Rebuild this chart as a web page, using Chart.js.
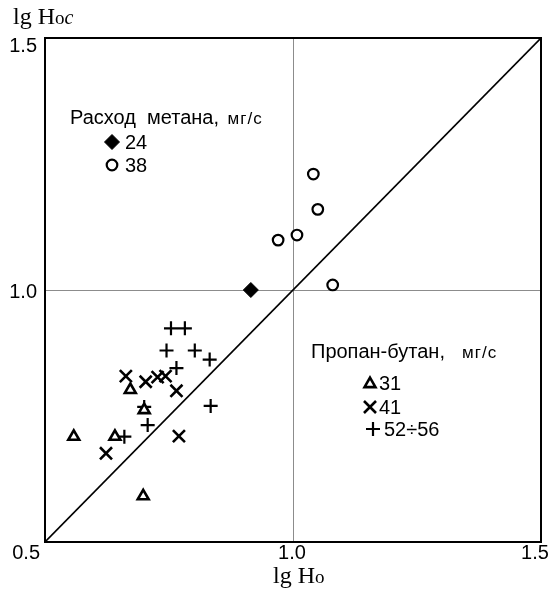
<!DOCTYPE html>
<html>
<head>
<meta charset="utf-8">
<script src="https://cdn.jsdelivr.net/npm/chart.js@4/dist/chart.umd.min.js"></script>
<style>
    html, body { margin: 0; padding: 0; background: #fff; }
    #chart { display: block; }
</style>
</head>
<body>
<canvas id="chart" width="554" height="590"></canvas>
<script>
// Data
    const tickValues = [0.5, 1.0, 1.5];
    const tickLabels = ['0.5', '1.0', '1.5'];

    const diagonal = [0.5, 1.5];

    // Расход метана, мг/с
    const methaneLabels = ['24', '38'];
    const methane24X = [0.915];
    const methane24Y = [1.000];
    const methane38X = [0.970, 1.008, 1.041, 1.050, 1.080];
    const methane38Y = [1.099, 1.109, 1.230, 1.160, 1.010];

    // Пропан-бутан, мг/с
    const propaneLabels = ['31', '41', '52÷56'];
    const propane31X = [0.558, 0.641, 0.672, 0.700, 0.698];
    const propane31Y = [0.709, 0.709, 0.802, 0.762, 0.591];
    const propane41X = [0.623, 0.663, 0.703, 0.727, 0.743, 0.765, 0.770];
    const propane41Y = [0.676, 0.829, 0.818, 0.827, 0.829, 0.800, 0.710];
    const propane52X = [0.660, 0.700, 0.707, 0.745, 0.754, 0.765, 0.782, 0.802, 0.832, 0.834];
    const propane52Y = [0.709, 0.768, 0.732, 0.880, 0.924, 0.845, 0.924, 0.880, 0.862, 0.770];

// Helpers
    const SANS = '"Liberation Sans", Arial, sans-serif';
    const SERIF = '"Liberation Serif", "DejaVu Serif", serif';
    const toPoints = (xs, ys) => xs.map((x, i) => ({x: x, y: ys[i]}));

    const markers =
    {
        diamond: {pointStyle: 'rectRot', radius: 7.5, borderWidth: 1, fill: '#000'}
        ,circle: {pointStyle: 'circle', radius: 5.3, borderWidth: 2.2, fill: '#fff'}
        ,triangle: {pointStyle: 'triangle', radius: 6.3, borderWidth: 2.6, fill: '#fff'}
        ,cross: {pointStyle: 'crossRot', radius: 8.5, borderWidth: 2.6, fill: '#fff'}
        ,plus: {pointStyle: 'cross', radius: 7, borderWidth: 2.2, fill: '#fff'}
    };

    const pointSet = (label, xs, ys, m) =>
    ({
        label: label
        ,data: toPoints(xs, ys)
        ,pointStyle: m.pointStyle
        ,pointRadius: m.radius
        ,pointHoverRadius: m.radius
        ,pointBorderWidth: m.borderWidth
        ,pointBackgroundColor: m.fill
        ,pointBorderColor: '#000'
        ,showLine: false
    });

    const drawParts = (ctx, parts, x, y) =>
    {
        ctx.textAlign = 'left';
        ctx.textBaseline = 'alphabetic';
        parts.forEach((p) =>
        {
            ctx.font = p.font;
            ctx.letterSpacing = p.spacing || '0px';
            ctx.fillText(p.text, x, y);
            x += ctx.measureText(p.text).width + (p.gap || 0);
        });
        ctx.letterSpacing = '0px';
    };

    const drawMarker = (ctx, m, x, y) =>
    {
        ctx.save();
        ctx.fillStyle = m.fill;
        ctx.strokeStyle = '#000';
        ctx.lineWidth = m.borderWidth;
        Chart.helpers.drawPoint(ctx, {pointStyle: m.pointStyle, radius: m.radius, borderWidth: m.borderWidth, rotation: 0}, x, y);
        ctx.restore();
    };

// Plugin: frame, tick labels, axis titles, legends
    const decorations =
    {
        id: 'decorations'
        ,afterDraw: (chart) =>
        {
            const ctx = chart.ctx;
            const a = chart.chartArea;
            const sx = chart.scales.x;
            const sy = chart.scales.y;

            ctx.save();
            ctx.strokeStyle = '#000';
            ctx.lineWidth = 2;
            ctx.strokeRect(a.left, a.top, a.right - a.left, a.bottom - a.top);

            ctx.fillStyle = '#000';
            ctx.font = '20px ' + SANS;
            ctx.textBaseline = 'alphabetic';

            // x ticks
            ctx.textAlign = 'right';
            ctx.fillText(tickLabels[0], sx.getPixelForValue(tickValues[0]) - 5, a.bottom + 17);
            ctx.textAlign = 'center';
            ctx.fillText(tickLabels[1], sx.getPixelForValue(tickValues[1]) - 1, a.bottom + 17);
            ctx.fillText(tickLabels[2], sx.getPixelForValue(tickValues[2]) - 6, a.bottom + 17);

            // y ticks
            ctx.textAlign = 'right';
            ctx.fillText(tickLabels[2], a.left - 8, sy.getPixelForValue(tickValues[2]) + 14);
            ctx.fillText(tickLabels[1], a.left - 8, sy.getPixelForValue(tickValues[1]) + 8);

            // axis titles
            drawParts(ctx, [
                {text: 'lg ', font: '24px ' + SERIF}
                ,{text: 'H', font: '24px ' + SERIF}
                ,{text: 'o', font: '19px ' + SERIF}
                ,{text: 'c', font: 'italic 20px ' + SERIF}
            ], 13, 24);
            drawParts(ctx, [
                {text: 'lg ', font: '24px ' + SERIF}
                ,{text: 'H', font: '24px ' + SERIF}
                ,{text: 'o', font: '19px ' + SERIF}
            ], 273, 583);

            // legend: methane
            ctx.fillStyle = '#000';
            drawParts(ctx, [
                {text: 'Расход  метана, ', font: '20px ' + SANS, gap: 3}
                ,{text: 'мг/с', font: '17px ' + SANS, spacing: '1px'}
            ], 70, 124);
            drawMarker(ctx, markers.diamond, 112, 142);
            drawMarker(ctx, markers.circle, 112, 165);
            ctx.fillStyle = '#000';
            drawParts(ctx, [{text: methaneLabels[0], font: '20px ' + SANS}], 125, 149);
            drawParts(ctx, [{text: methaneLabels[1], font: '20px ' + SANS}], 125, 172);

            // legend: propane-butane
            drawParts(ctx, [
                {text: 'Пропан-бутан,  ', font: '20px ' + SANS, gap: 6}
                ,{text: 'мг/с', font: '17px ' + SANS, spacing: '1px'}
            ], 311, 358);
            drawMarker(ctx, markers.triangle, 370, 384);
            drawMarker(ctx, markers.cross, 370, 407);
            drawMarker(ctx, markers.plus, 373, 429);
            ctx.fillStyle = '#000';
            drawParts(ctx, [{text: propaneLabels[0], font: '20px ' + SANS}], 379, 390);
            drawParts(ctx, [{text: propaneLabels[1], font: '20px ' + SANS}], 379, 414);
            drawParts(ctx, [{text: propaneLabels[2], font: '20px ' + SANS}], 384, 436);
            ctx.restore();
        }
    };

// Chart
    const createChart = () =>
    {
        const ctx = document.getElementById('chart');

        const gridColor = (c) => (c.tick && c.tick.value === 1) ? '#8c8c8c' : 'rgba(0,0,0,0)';

        new Chart(ctx,
        {
            type: 'scatter'
            ,data: {
                datasets:
                [
                    pointSet('24', methane24X, methane24Y, markers.diamond)
                    ,pointSet('38', methane38X, methane38Y, markers.circle)
                    ,pointSet('31', propane31X, propane31Y, markers.triangle)
                    ,pointSet('41', propane41X, propane41Y, markers.cross)
                    ,pointSet('52÷56', propane52X, propane52Y, markers.plus)
                    ,{
                        label: 'y = x'
                        ,type: 'line'
                        ,data: toPoints(diagonal, diagonal)
                        ,borderColor: '#000'
                        ,borderWidth: 1.6
                        ,pointRadius: 0
                        ,fill: false
                        ,order: 10
                    }
                ]
            }
            ,options:
            {
                responsive: false
                ,animation: false
                ,devicePixelRatio: 1
                ,layout: {padding: {left: 45, right: 13, top: 38, bottom: 48}}
                ,plugins: {legend: {display: false}, tooltip: {enabled: false}}
                ,scales:
                {
                    x: {
                        type: 'linear', min: 0.5, max: 1.5
                        ,ticks: {display: false, stepSize: 0.5}
                        ,grid: {color: gridColor, lineWidth: 1, drawTicks: false}
                        ,border: {display: false}
                        ,afterFit: (s) => { s.height = 0; }
                    }
                    ,y: {
                        type: 'linear', min: 0.5, max: 1.5
                        ,ticks: {display: false, stepSize: 0.5}
                        ,grid: {color: gridColor, lineWidth: 1, drawTicks: false}
                        ,border: {display: false}
                        ,afterFit: (s) => { s.width = 0; }
                    }
                }
            }
            ,plugins: [decorations]
        });
    };
    createChart();
</script>
</body>
</html>
